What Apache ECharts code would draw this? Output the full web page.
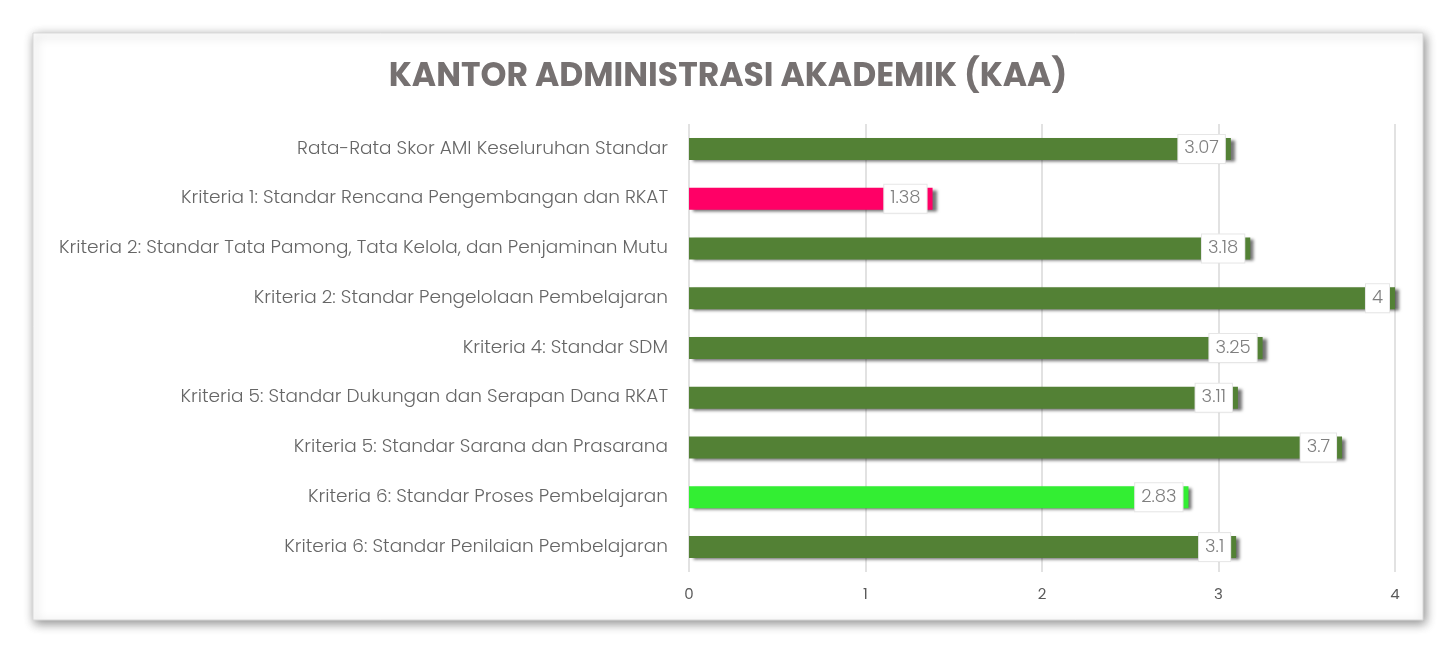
<!DOCTYPE html>
<html>
<head>
<meta charset="utf-8">
<title>KAA</title>
<script src="https://cdn.jsdelivr.net/npm/echarts@6/dist/echarts.min.js"></script>
<style>
    body { margin: 0; background: #fff; }
    #chart { width: 1456px; height: 653px; }
</style>
</head>
<body>
<div id="chart"></div>
<script>
    // top to bottom as drawn
    var categories = [
        'Rata-Rata Skor AMI Keseluruhan Standar',
        'Kriteria 1: Standar Rencana Pengembangan dan RKAT',
        'Kriteria 2: Standar Tata Pamong, Tata Kelola, dan Penjaminan Mutu',
        'Kriteria 2: Standar Pengelolaan Pembelajaran',
        'Kriteria 4: Standar SDM',
        'Kriteria 5: Standar Dukungan dan Serapan Dana RKAT',
        'Kriteria 5: Standar Sarana dan Prasarana',
        'Kriteria 6: Standar Proses Pembelajaran',
        'Kriteria 6: Standar Penilaian Pembelajaran'
    ];
    var scores = [3.07, 1.38, 3.18, 4, 3.25, 3.11, 3.7, 2.83, 3.1];
    var barColors = ['#538135', '#FF0066', '#538135', '#538135', '#538135', '#538135', '#538135', '#33EE33', '#538135'];
    var xTicks = [0, 1, 2, 3, 4];

    var font = 'Poppins, "Noto Sans", sans-serif';

    var chart = echarts.init(document.getElementById('chart'));
    chart.setOption({
        backgroundColor: '#ffffff',
        animation: false,
        graphic: [{
            type: 'rect',
            z: -10,
            shape: { x: 33, y: 33, width: 1390, height: 587 },
            style: { fill: '#fff', stroke: '#d9d9d9', lineWidth: 1, shadowBlur: 10, shadowColor: 'rgba(0,0,0,0.45)', shadowOffsetX: 2, shadowOffsetY: 3 }
        }],
        title: {
            text: 'KANTOR ADMINISTRASI AKADEMIK (KAA)',
            left: 'center',
            top: 56,
            textStyle: { color: '#767171', fontSize: 33, fontWeight: 'bold', fontFamily: font }
        },
        grid: { left: 689, right: 61, top: 124, bottom: 81, containLabel: false },
        xAxis: {
            type: 'value',
            min: 0,
            max: 4,
            interval: 1,
            axisLine: { show: false },
            axisTick: { show: false },
            splitLine: { lineStyle: { color: '#d9d9d9', width: 1.5 } },
            axisLabel: { color: '#595959', fontSize: 15, margin: 16, fontFamily: font,
                formatter: function (v) { return xTicks.indexOf(v) >= 0 ? String(v) : ''; } }
        },
        yAxis: {
            type: 'category',
            inverse: true,
            data: categories,
            axisLine: { show: false },
            axisTick: { show: false },
            axisLabel: { color: '#666666', fontSize: 18.5, fontWeight: 300, margin: 21, fontFamily: font }
        },
        series: [{
            type: 'bar',
            barWidth: 22,
            data: scores.map(function (v, i) {
                return { value: v, itemStyle: { color: barColors[i] } };
            }),
            itemStyle: { shadowColor: 'rgba(0,0,0,0.55)', shadowBlur: 3, shadowOffsetX: 4, shadowOffsetY: 2 },
            label: {
                show: true,
                position: 'insideRight',
                offset: [-1, 0],
                color: '#7f7f7f',
                fontSize: 18,
                fontWeight: 300,
                fontFamily: font,
                backgroundColor: '#fff',
                borderColor: '#e6e6e6',
                borderWidth: 1,
                padding: [6, 6, 4, 6]
            }
        }]
    });
</script>
</body>
</html>
